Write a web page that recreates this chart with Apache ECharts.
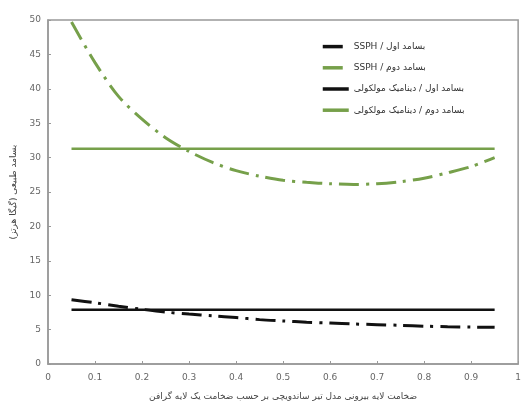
<!DOCTYPE html>
<html lang="fa">
<head>
  <meta charset="UTF-8">
  <title>بسامد طبیعی</title>
  <script src="https://cdn.jsdelivr.net/npm/echarts/dist/echarts.min.js"></script>
  <style>
    html, body { margin: 0; padding: 0; background: #fff; }
    #chart { width: 524px; height: 408px; }
  </style>
</head>
<body>
  <div id="chart"></div>
<script>
  // thickness ratio (x) and natural frequency in GHz
  const xVals = [0.05, 0.1, 0.15, 0.2, 0.25, 0.3, 0.35, 0.4, 0.45, 0.5,
                 0.55, 0.6, 0.65, 0.7, 0.75, 0.8, 0.85, 0.9, 0.95];
  const ssphFirst = [9.35, 8.9, 8.4, 7.95, 7.55, 7.25, 7.0, 6.75, 6.45, 6.25,
                     6.08, 5.95, 5.82, 5.72, 5.62, 5.5, 5.42, 5.37, 5.33];
  const ssphSecond = [49.7, 43.8, 38.9, 35.6, 32.9, 30.9, 29.3, 28.1, 27.3, 26.7,
                      26.4, 26.2, 26.1, 26.2, 26.5, 27.0, 27.8, 28.7, 30.0];
  const mdX = [0.05, 0.95];
  const mdFirst = [7.9, 7.9];
  const mdSecond = [31.3, 31.3];

  const names = [
    "SSPH / بسامد اول",
    "SSPH / بسامد دوم",
    "بسامد اول / دینامیک مولکولی",
    "بسامد دوم / دینامیک مولکولی"
  ];

  const pair = (xs, ys) => xs.map((x, i) => [x, ys[i]]);
  const green = "#76a04a";
  const dashDot = [20, 7, 3, 7];

  const chart = echarts.init(document.getElementById("chart"));
  chart.setOption({
    animation: false,
    textStyle: { fontFamily: "DejaVu Sans, Noto Sans, sans-serif" },
    grid: { left: 48, right: 3, top: 20, bottom: 44, show: true, borderColor: "#999", borderWidth: 1.5 },
    legend: {
      orient: "vertical",
      left: 316,
      top: 36,
      itemWidth: 26,
      itemHeight: 14,
      itemGap: 10,
      itemStyle: { opacity: 0 },
      lineStyle: { width: 3.5 },
      textStyle: { fontSize: 9, color: "#333" },
      data: names
    },
    xAxis: {
      type: "value",
      min: 0, max: 1, interval: 0.1,
      name: "ضخامت لایه بیرونی مدل تیر ساندویچی بر حسب ضخامت یک لایه گرافن",
      nameLocation: "middle",
      nameGap: 28,
      nameTextStyle: { fontSize: 9, color: "#444" },
      axisLine: { lineStyle: { color: "#999", width: 1.5 } },
      axisTick: { inside: true, length: 3, lineStyle: { color: "#999" } },
      axisLabel: { fontSize: 9, color: "#666", margin: 9 },
      splitLine: { show: false }
    },
    yAxis: {
      type: "value",
      min: 0, max: 50, interval: 5,
      name: "\u200Fبسامد طبیعی (گیگا هرتز)\u200F",
      nameLocation: "middle",
      nameGap: 30,
      nameTextStyle: { fontSize: 9, color: "#444" },
      axisLine: { show: true, lineStyle: { color: "#999", width: 1.5 } },
      axisTick: { show: true, inside: true, length: 3, lineStyle: { color: "#999" } },
      axisLabel: { fontSize: 9, color: "#666", margin: 7 },
      splitLine: { show: false }
    },
    series: [
      {
        name: names[0], type: "line", symbol: "none", smooth: 0.3,
        data: pair(xVals, ssphFirst),
        lineStyle: { color: "#111", width: 3, type: dashDot },
        itemStyle: { color: "#111" }
      },
      {
        name: names[1], type: "line", symbol: "none", smooth: 0.3,
        data: pair(xVals, ssphSecond),
        lineStyle: { color: green, width: 3, type: dashDot },
        itemStyle: { color: green }
      },
      {
        name: names[2], type: "line", symbol: "none",
        data: pair(mdX, mdFirst),
        lineStyle: { color: "#111", width: 2.5 },
        itemStyle: { color: "#111" }
      },
      {
        name: names[3], type: "line", symbol: "none",
        data: pair(mdX, mdSecond),
        lineStyle: { color: green, width: 2.5 },
        itemStyle: { color: green }
      }
    ]
  });
</script>
</body>
</html>
